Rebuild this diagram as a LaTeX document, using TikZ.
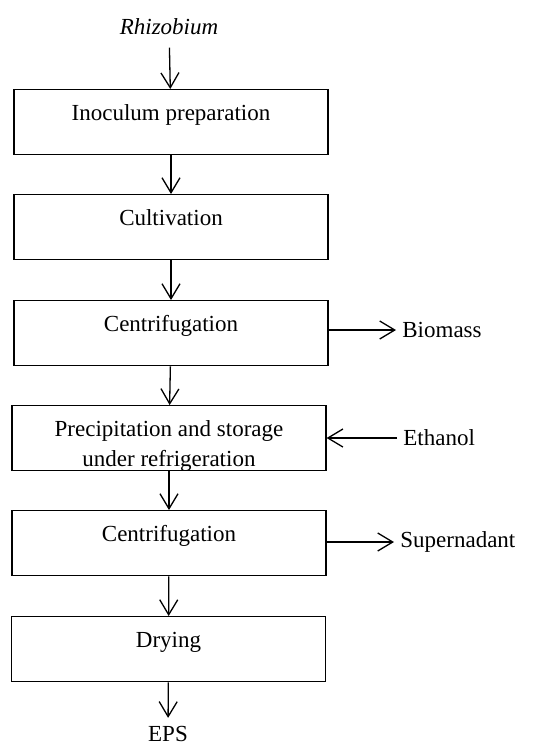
\documentclass[tikz,border=0pt]{standalone}
\usepackage{fontspec}
\setmainfont{Liberation Serif}
\usetikzlibrary{arrows.meta}

\begin{document}
\fontsize{11.5}{15}\selectfont
\begin{tikzpicture}[x=0.5pt,y=-0.5pt]
\tikzstyle{stage} = [draw, line width=0.65pt, anchor=north, minimum width=157pt, inner sep=0, text height=15.5pt, text depth=17pt, align=center]
\tikzstyle{flow} = [line width=0.65pt, -{Straight Barb[length=7.5pt,width=9pt]}]
\tikzstyle{side} = [anchor=west, inner sep=3pt]

\useasboundingbox (0,0) rectangle (541,745);

% Fasi del processo
\foreach \name/\x/\y/\txt in {inoc/171/89/Inoculum preparation, cult/171/194/Cultivation, cent1/171/300/Centrifugation, cent2/169/510/Centrifugation, dry/168.5/616/Drying} {
  \node[stage] (\name) at (\x,\y) {\txt};
}
\node[stage, text height=30.5pt, text depth=2pt] (prec) at (169,405) {Precipitation and storage\\under refrigeration};

% Ingresso e uscita
\node[inner sep=6pt] (rhizo) at (169,27) {\itshape Rhizobium};
\node[inner sep=4pt] (eps) at (168,734) {EPS};

% Laterali
\node[side] (biomass) at (396,330) {Biomass};
\node[side] (ethanol) at (397,438) {Ethanol};
\node[side] (super) at (394,542) {Supernadant};

% Frecce
\draw[flow] (rhizo) -- (inoc);
\draw[flow] (inoc) -- (cult);
\draw[flow] (cult) -- (cent1);
\draw[flow] (cent1) -- (prec);
\draw[flow] (prec) -- (cent2);
\draw[flow] (cent2) -- (dry);
\draw[flow] (dry) -- (eps);
\draw[flow] (cent1.east |- biomass.west) -- (biomass.west);
\draw[flow] (ethanol.west) -- (prec.east |- ethanol.west);
\draw[flow] (cent2.east |- super.west) -- (super.west);

\end{tikzpicture}
\end{document}
